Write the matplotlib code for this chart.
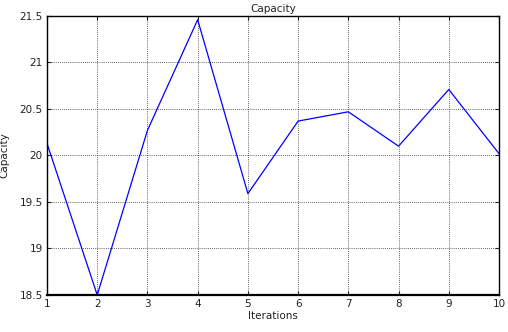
import matplotlib
matplotlib.use("Agg")
import matplotlib.pyplot as plt

iterations = [1, 2, 3, 4, 5, 6, 7, 8, 9, 10]
capacity = [20.13, 18.50, 20.27, 21.46, 19.59, 20.37, 20.47, 20.10, 20.71, 20.02]
xticks = [1, 2, 3, 4, 5, 6, 7, 8, 9, 10]
yticks = [18.5, 19, 19.5, 20, 20.5, 21, 21.5]
ytick_labels = ["18.5", "19", "19.5", "20", "20.5", "21", "21.5"]

plt.rcParams['font.family'] = ['DejaVu Sans']
fs = 7.5

fig = plt.figure(figsize=(5.08, 3.32), dpi=100)
ax = fig.add_axes([47/508, 1-295/332, (499-47)/508, (295-16)/332])
ax.plot(iterations, capacity, color='#0000ff', lw=0.9)
ax.set_xlim(1, 10)
ax.set_ylim(18.5, 21.5)
ax.set_xticks(xticks)
ax.set_yticks(yticks)
ax.set_yticklabels(ytick_labels)
ax.grid(True, color='#303030', linestyle=(0, (1, 1.5)), lw=0.6)
ax.tick_params(direction='in', length=3, width=0.8, top=True, right=True, labelsize=fs, pad=3,
               colors='#222222')
for s in ax.spines.values():
    s.set_linewidth(1.0)
ax.spines['bottom'].set_linewidth(1.6)
ax.set_title('Capacity', fontsize=fs, pad=3, color='#222222')
ax.set_xlabel('Iterations', fontsize=fs, labelpad=1, color='#222222')
ax.set_ylabel('Capacity', fontsize=fs, labelpad=7, color='#222222')
fig.savefig('out.png', dpi=100)
